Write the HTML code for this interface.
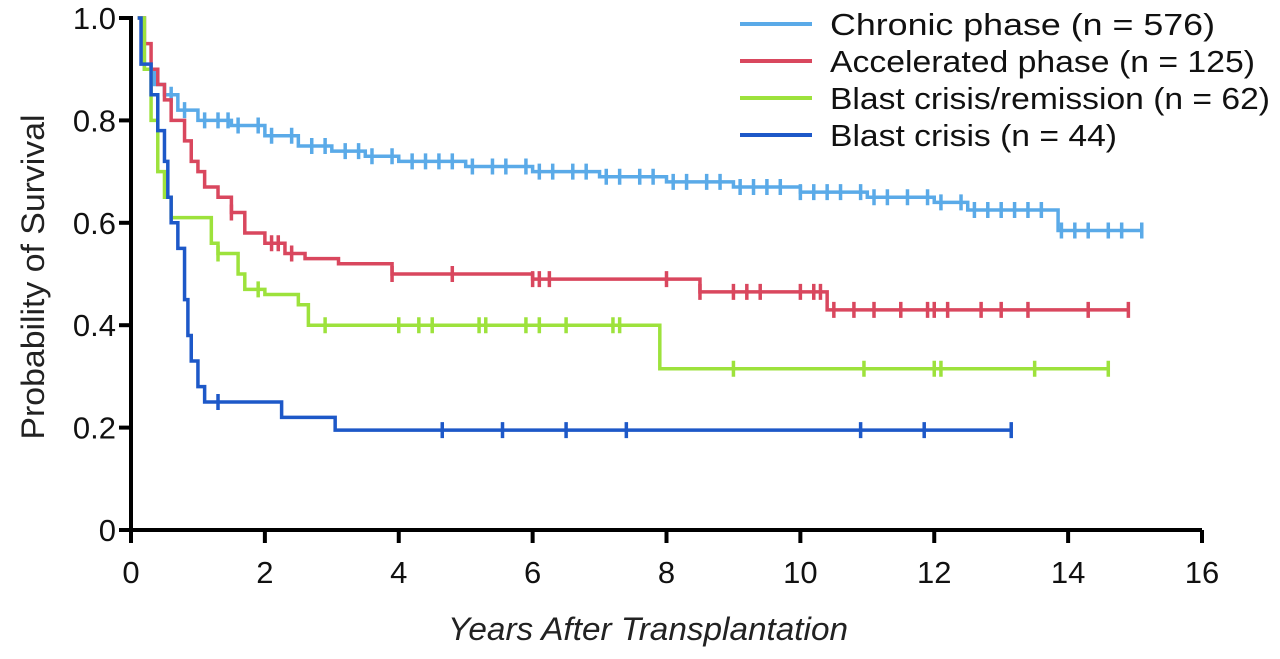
<!DOCTYPE html>
<html><head><meta charset="utf-8"><style>
body{margin:0;background:#fff;}
svg{display:block;font-family:"Liberation Sans",Arial,sans-serif;}
</style></head><body>
<svg id="chart" width="1280" height="659" viewBox="0 0 1280 659"></svg>
<script>
const xTicks=[0,2,4,6,8,10,12,14,16];
const yTicks=[0,0.2,0.4,0.6,0.8,1.0];
const yTickLabels=["0","0.2","0.4","0.6","0.8","1.0"];
const seriesNames=["Chronic phase (n = 576)","Accelerated phase (n = 125)","Blast crisis/remission (n = 62)","Blast crisis (n = 44)"];
const chronicT=[0.1,0.2,0.35,0.5,0.7,1.0,1.5,2.0,2.5,3.0,3.5,4.0,5.0,6.0,7.0,8.0,9.0,10.0,11.0,12.0,12.5,13.85,15.1];
const chronicS=[1.0,0.9,0.87,0.85,0.82,0.80,0.79,0.77,0.75,0.74,0.73,0.72,0.71,0.70,0.69,0.68,0.67,0.66,0.65,0.64,0.625,0.585,0.585];
const chronicC=[0.6,0.8,1.1,1.3,1.45,1.6,1.9,2.1,2.4,2.7,2.9,3.2,3.4,3.6,3.9,4.2,4.4,4.6,4.8,5.1,5.4,5.6,5.9,6.1,6.3,6.6,6.8,7.1,7.3,7.6,7.8,8.1,8.3,8.6,8.8,9.1,9.3,9.5,9.7,10.0,10.2,10.4,10.6,10.9,11.1,11.3,11.6,11.9,12.1,12.4,12.6,12.8,13.0,13.2,13.4,13.6,13.9,14.1,14.3,14.6,14.8,15.1];
const accelT=[0.1,0.2,0.3,0.4,0.5,0.6,0.8,0.9,1.0,1.1,1.3,1.5,1.7,2.0,2.3,2.6,3.1,3.9,6.0,8.5,10.4,14.9];
const accelS=[1.0,0.95,0.9,0.87,0.84,0.8,0.76,0.72,0.70,0.67,0.65,0.62,0.58,0.56,0.54,0.53,0.52,0.50,0.49,0.465,0.43,0.43];
const accelC=[1.5,2.1,2.2,2.4,3.9,4.8,6.0,6.1,6.25,8.0,8.5,9.0,9.2,9.4,10.0,10.2,10.3,10.5,10.8,11.1,11.5,11.9,12.0,12.2,12.7,13.0,13.4,14.3,14.9];
const remT=[0.1,0.2,0.3,0.4,0.5,0.6,1.2,1.3,1.6,1.7,2.0,2.5,2.65,7.9,14.6];
const remS=[1.0,0.9,0.8,0.7,0.65,0.61,0.56,0.54,0.5,0.47,0.46,0.44,0.40,0.315,0.315];
const remC=[1.3,1.9,2.9,4.0,4.3,4.5,5.2,5.3,5.9,6.1,6.5,7.2,7.3,9.0,10.95,12.0,12.1,13.5,14.6];
const blastT=[0.1,0.15,0.3,0.4,0.5,0.55,0.6,0.7,0.8,0.85,0.9,1.0,1.1,2.25,3.05,13.15];
const blastS=[1.0,0.91,0.85,0.78,0.72,0.65,0.6,0.55,0.45,0.38,0.33,0.28,0.25,0.22,0.195,0.195];
const blastC=[1.3,4.65,5.55,6.5,7.4,10.9,11.85,13.15];
const colors=["#5aaae8","#d9475e","#9de23c","#1d58c8"];
const legendWidths=[385,425,440,287];

const NS="http://www.w3.org/2000/svg";
const svg=document.getElementById('chart');
const X0=131,X1=1202,Y0=530,Y1=18;
function xs(v){return X0+(X1-X0)*v/16;}
function ys(v){return Y0-(Y0-Y1)*v;}
function mk(tag,attrs,parent){const e=document.createElementNS(NS,tag);for(const k in attrs)e.setAttribute(k,attrs[k]);(parent||svg).appendChild(e);return e;}

const series=[[chronicT,chronicS,chronicC],[accelT,accelS,accelC],[remT,remS,remC],[blastT,blastS,blastC]];
const keys=["chronic","accelerated","remission","blast"];
series.forEach((s,i)=>{
  const [T,S,C]=s;
  let d="M"+xs(0.1)+","+ys(1);
  for(let k=0;k<T.length;k++){d+=" H"+xs(T[k])+" V"+ys(S[k]);}
  const p=mk('path',{d:d,fill:'none',stroke:colors[i],'stroke-width':3.5});
  
  
  let td="";
  C.forEach(c=>{let v=1;for(let k=0;k<T.length;k++){if(T[k]<=c)v=S[k];}td+="M"+xs(c)+","+(ys(v)-8)+" V"+(ys(v)+8)+" ";});
  const tk=mk('path',{d:td,stroke:colors[i],'stroke-width':3.5,fill:'none'});
  
  
});

const ax=mk('path',{d:`M${X0},${Y1-2} V${Y0} H${X1}`,stroke:'#000','stroke-width':4,fill:'none'});


yTicks.forEach((v,i)=>{
  mk('line',{x1:X0-12,x2:X0,y1:ys(v),y2:ys(v),stroke:'#000','stroke-width':4});
  const t=mk('text',{x:X0-15,y:ys(v)+11,'text-anchor':'end','font-size':31,fill:'#111'});
  t.textContent=yTickLabels[i];
  
  
});
xTicks.forEach(v=>{
  mk('line',{x1:xs(v),x2:xs(v),y1:Y0,y2:Y0+13,stroke:'#000','stroke-width':4});
  const t=mk('text',{x:xs(v),y:Y0+53,'text-anchor':'middle','font-size':31,fill:'#111'});
  t.textContent=String(v);
  
  
});
const xt=mk('text',{x:648,y:640,'text-anchor':'middle','font-size':32,'font-style':'italic',fill:'#222',textLength:400,lengthAdjust:'spacingAndGlyphs'});
xt.textContent="Years After Transplantation";


const yt=mk('text',{x:0,y:0,'text-anchor':'middle','font-size':32,fill:'#222',transform:'translate(44,277) rotate(-90)',textLength:325,lengthAdjust:'spacingAndGlyphs'});
yt.textContent="Probability of Survival";


seriesNames.forEach((n,i)=>{
  const y=24+i*37;
  const g=mk('g',{});
  
  
  mk('line',{x1:740,x2:812,y1:y,y2:y,stroke:colors[i],'stroke-width':4},g);
  const t=mk('text',{x:830,y:y+11,'font-size':31,fill:'#111',textLength:legendWidths[i],lengthAdjust:'spacingAndGlyphs'},g);
  t.textContent=n;
});
</script>
</body></html>
